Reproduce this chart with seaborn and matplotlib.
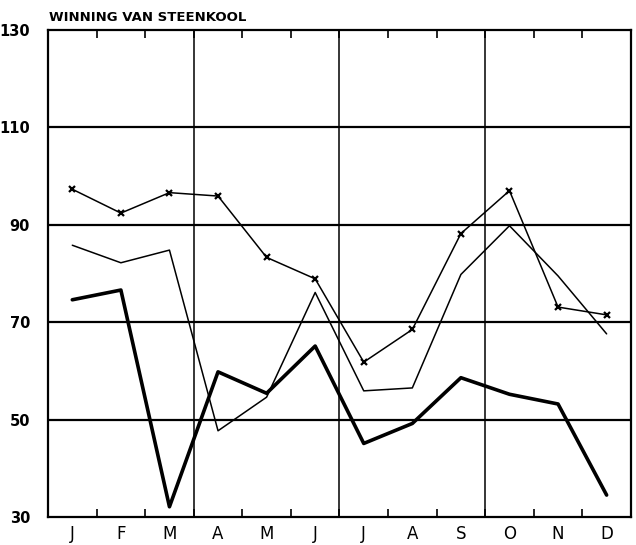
import pandas as pd
import seaborn as sns
import matplotlib.pyplot as plt
import numpy as np

# Data
months = ['J', 'F', 'M', 'A', 'M', 'J', 'J', 'A', 'S', 'O', 'N', 'D']
line_cross = [97.3, 92.4, 96.6, 95.9, 83.3, 78.9, 61.8, 68.5, 88.2, 97.0, 73.1, 71.5]
line_thin = [85.8, 82.2, 84.8, 47.7, 54.6, 76.1, 55.9, 56.5, 79.8, 89.8, 79.5, 67.6]
line_thick = [74.6, 76.6, 32.1, 59.8, 55.4, 65.1, 45.1, 49.2, 58.6, 55.2, 53.2, 34.5]
y_ticks = [30, 50, 70, 90, 110, 130]

pos = np.arange(len(months)) + 0.5
df = pd.DataFrame({'pos': pos, 'cross': line_cross, 'thin': line_thin, 'thick': line_thick})

sns.set_style('white')
plt.rcParams['font.family'] = ['DejaVu Sans']
plt.rcParams['text.color'] = 'black'
plt.rcParams['xtick.color'] = 'black'
plt.rcParams['ytick.color'] = 'black'

fig = plt.figure(figsize=(6.36, 5.45), dpi=100)
ax = fig.add_axes([0.0755, 0.0514, 0.9165, 0.8936])

# grid lines
for y in [50, 70, 90, 110]:
    ax.axhline(y, color='black', lw=1.6, zorder=1)
for x in [3, 6, 9]:
    ax.axvline(x, color='black', lw=1.1, zorder=1)

sns.lineplot(data=df, x='pos', y='cross', ax=ax, color='black', lw=1.1,
             marker='x', markersize=5, markeredgewidth=1.6,
             markeredgecolor='black', zorder=3)
sns.lineplot(data=df, x='pos', y='thin', ax=ax, color='black', lw=1.1, zorder=3)
sns.lineplot(data=df, x='pos', y='thick', ax=ax, color='black', lw=2.6, zorder=3)

ax.set_xlim(0, 12)
ax.set_ylim(30, 130)
ax.set_xlabel('')
ax.set_ylabel('')

ax.set_xticks(pos)
ax.set_xticklabels(months, fontsize=12)
ax.set_xticks(np.arange(1, 12), minor=True)
ax.tick_params(axis='x', which='major', length=0, pad=6)
ax.tick_params(axis='x', which='minor', direction='in', length=6, width=1.2,
               top=True, bottom=True, color='black')

ax.set_yticks(y_ticks)
ax.set_yticklabels([str(v) for v in y_ticks], fontsize=10.5, fontweight='bold')
ax.tick_params(axis='y', length=0, pad=13)

for s in ax.spines.values():
    s.set_visible(True)
    s.set_color('black')
    s.set_linewidth(1.6)

fig.text(0.077, 0.967, 'WINNING VAN STEENKOOL', fontsize=9.5, fontweight='bold',
         ha='left', va='center')

fig.savefig('out.png', dpi=100)
